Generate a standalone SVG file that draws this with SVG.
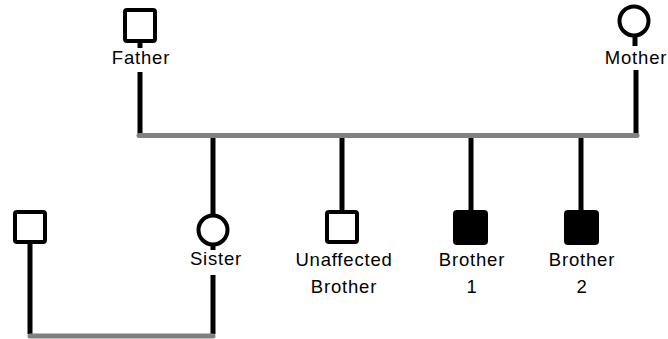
<svg xmlns="http://www.w3.org/2000/svg" width="668" height="339" viewBox="0 0 668 339">
<style>
.sym{fill:#fff;stroke:#000;stroke-width:4;stroke-linejoin:round}
.aff{fill:#000;stroke:#000;stroke-width:4;stroke-linejoin:round}
.lbl{font-family:"Liberation Sans",Arial,sans-serif;font-size:18.5px;fill:#000;text-anchor:middle;letter-spacing:0.8px}
.ln{stroke:#000;stroke-width:5;fill:none}
.bar{stroke:#808080;stroke-width:5;fill:none;stroke-linecap:round}
</style>
<rect width="668" height="339" fill="#fff"/>
<g id="connectors">
<line class="ln" x1="140" y1="42" x2="140" y2="48"/>
<line class="ln" x1="140" y1="72" x2="140" y2="134"/>
<line class="ln" x1="635" y1="36" x2="635" y2="46"/>
<line class="ln" x1="636" y1="70" x2="636" y2="134"/>
<line class="ln" x1="213" y1="136" x2="213" y2="216"/>
<line class="ln" x1="213" y1="244" x2="213" y2="250"/>
<line class="ln" x1="213" y1="275" x2="213" y2="334"/>
<line class="ln" x1="342" y1="136" x2="342" y2="212"/>
<line class="ln" x1="471" y1="136" x2="471" y2="212"/>
<line class="ln" x1="581" y1="136" x2="581" y2="212"/>
<line class="ln" x1="30" y1="242" x2="30" y2="334"/>
<line class="bar" x1="139" y1="135.5" x2="637" y2="135.5"/>
<line class="bar" x1="30" y1="336" x2="213" y2="336"/>
</g>
<g id="father">
<rect class="sym" x="125" y="10" width="30" height="31" rx="2"/>
<text class="lbl" x="141" y="64">Father</text>
</g>
<g id="mother">
<circle class="sym" cx="634" cy="21" r="14.5"/>
<text class="lbl" x="636" y="64">Mother</text>
</g>
<g id="spouse">
<rect class="sym" x="15" y="212" width="30" height="30" rx="2"/>
</g>
<g id="sister">
<circle class="sym" cx="213" cy="230" r="14.5"/>
<text class="lbl" x="216" y="265">Sister</text>
</g>
<g id="unaffected-brother">
<rect class="sym" x="327" y="212" width="30" height="30" rx="2"/>
<text class="lbl" x="344" y="266">Unaffected</text>
<text class="lbl" x="344" y="293">Brother</text>
</g>
<g id="brother1">
<rect class="aff" x="455" y="212" width="31" height="31" rx="2"/>
<text class="lbl" x="472" y="266">Brother</text>
<text class="lbl" x="472" y="293">1</text>
</g>
<g id="brother2">
<rect class="aff" x="566" y="212" width="31" height="31" rx="2"/>
<text class="lbl" x="582" y="266">Brother</text>
<text class="lbl" x="582" y="293">2</text>
</g>
</svg>
